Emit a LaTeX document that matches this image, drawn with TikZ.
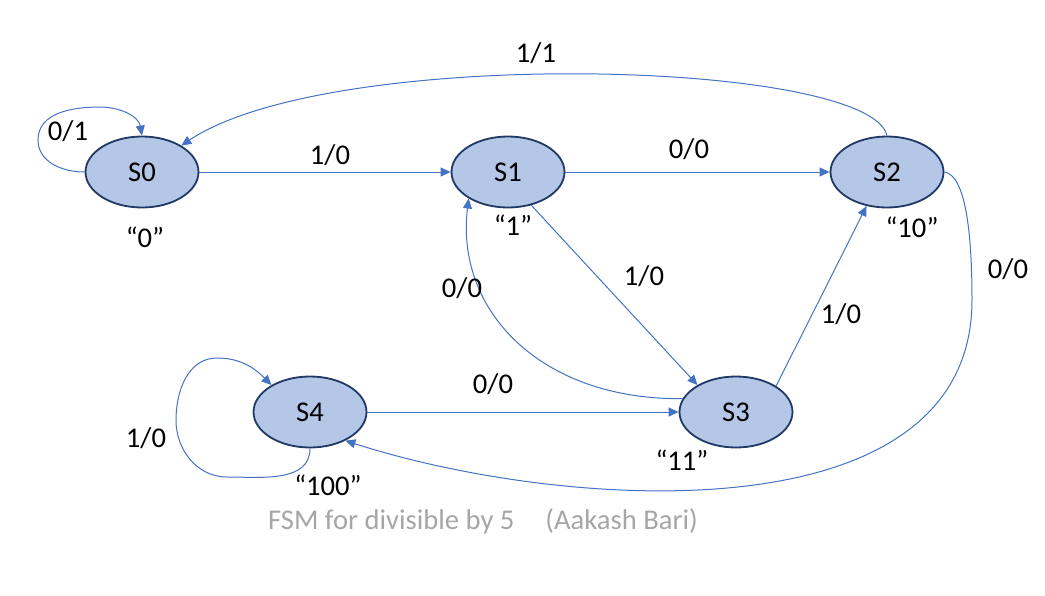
\documentclass[tikz,border=0pt]{standalone}
\usepackage{fontspec}
\setmainfont{Carlito}
\usetikzlibrary{shapes.geometric,arrows.meta}
\definecolor{stfill}{HTML}{B4C7E7}
\definecolor{stdraw}{HTML}{1F3864}
\definecolor{edgeblue}{HTML}{4472C4}
\definecolor{capgray}{HTML}{A6A6A6}
\tikzset{
  state/.style={ellipse,draw=stdraw,line width=1.8pt,fill=stfill,minimum width=113pt,minimum height=71pt,inner sep=0pt,font=\fontsize{28.6}{32}\selectfont},
  edge/.style={draw=edgeblue,line width=1pt,-{Triangle[width=9pt,length=10pt]}},
  lbl/.style={anchor=base,inner sep=0pt,font=\fontsize{28.6}{32}\selectfont},
}
\begin{document}
\begin{tikzpicture}[x=1pt,y=1pt]
\useasboundingbox (0,0) rectangle (1045,-595);
\node[state] (S0) at (142,-172) {S0};
\node[state] (S1) at (508,-172) {S1};
\node[state] (S2) at (887,-172) {S2};
\node[state] (S3) at (736,-412) {S3};
\node[state] (S4) at (310,-412) {S4};
% edges
\draw[edge] (S0.west) to[out=180,in=270] (38,-140) to[out=90,in=180] (100,-107) to[out=0,in=100] (S0.north);
\draw[edge] (S0.east) -- (S1.west);
\draw[edge] (S1.east) -- (S2.west);
\draw[edge] (S2.north) .. controls (870,-60) and (332,-45) .. (S0.34);
\draw[edge] (S1.-55) -- (S3.145);
\draw[edge] (S3.166) .. controls (540,-400) and (455,-310) .. (S1.214);
\draw[edge] (S3.33) -- (S2.239);
\draw[edge] (S4.east) -- (S3.west);
\draw[edge] (S2.east) .. controls (965,-175) and (972,-230) .. (972,-300) .. controls (972,-540) and (560,-510) .. (S4.-39);
\draw[edge] (S4.south) to[out=270,in=0] (227,-477) to[out=180,in=270] (176,-420) to[out=90,in=180] (217,-358) to[out=0,in=135] (S4.145);
% labels
\node[lbl] (l01) at (68,-140) {0/1};
\node[lbl] (q0) at (145,-247) {“0”};
\node[lbl] (l10a) at (330,-164) {1/0};
\node[lbl] (l00a) at (689,-158) {0/0};
\node[lbl] (q1) at (513,-235) {“1”};
\node[lbl] (l11) at (536,-62) {1/1};
\node[lbl] (q10) at (912,-237) {“10”};
\node[lbl] (l00b) at (1008,-278) {0/0};
\node[lbl] (l10b) at (644,-285) {1/0};
\node[lbl] (l00c) at (462,-297) {0/0};
\node[lbl] (l10c) at (841,-323) {1/0};
\node[lbl] (l00d) at (493,-393) {0/0};
\node[lbl] (q11) at (682,-470) {“11”};
\node[lbl] (l10d) at (146,-447) {1/0};
\node[lbl] (q100) at (328,-495) {“100”};
\node[anchor=base west,inner sep=0pt,text=capgray,font=\fontsize{28.6}{32}\selectfont] (cap) at (268,-529) {FSM for divisible by 5\hspace{31pt}(Aakash Bari)};
\end{tikzpicture}
\end{document}
